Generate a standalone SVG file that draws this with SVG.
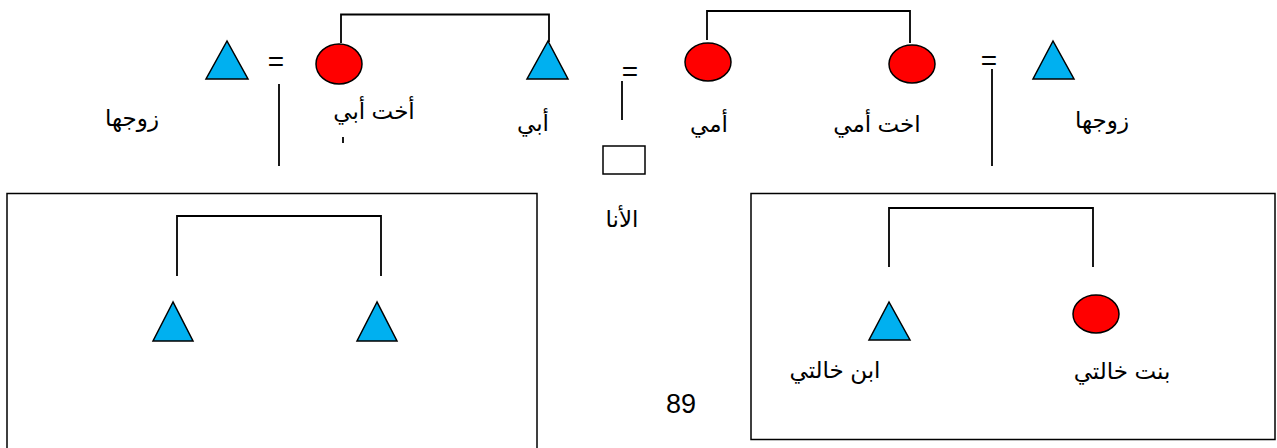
<svg xmlns="http://www.w3.org/2000/svg" width="1277" height="448" viewBox="0 0 1277 448">
<style>
.m{fill:#00B0F0;stroke:#000;stroke-width:1.5;stroke-linejoin:miter}
.f{fill:#FF0000;stroke:#000;stroke-width:1.5}
.ego{fill:#fff;stroke:#000;stroke-width:1.5}
.ln{fill:none;stroke:#000;stroke-width:1.8}
.box{fill:none;stroke:#000;stroke-width:1.5}
.t{font-family:"Liberation Sans","DejaVu Sans",sans-serif;font-size:23px;fill:#000;text-anchor:middle}
.eq{font-family:"Liberation Sans",Arial,sans-serif;font-size:28px;fill:#000;text-anchor:middle}
.num{font-family:"Liberation Sans",Arial,sans-serif;font-size:27px;fill:#000;text-anchor:middle}
</style>
<rect width="1277" height="448" fill="#fff"/>
<g id="boxes">
<rect class="box" x="7" y="193.5" width="530" height="270"/>
<rect class="box" x="751" y="193.5" width="524" height="246"/>
</g>
<g id="connectors">
<path class="ln" d="M341,43 V14.5 H549 V42"/>
<path class="ln" d="M707,40 V11 H910 V43"/>
<path class="ln" d="M177,276 V216 H381 V276"/>
<path class="ln" d="M889,267 V208 H1093 V267"/>
<line class="ln" x1="279" y1="84" x2="279" y2="166"/>
<line class="ln" x1="622" y1="81" x2="622" y2="120"/>
<line class="ln" x1="992" y1="69" x2="992" y2="166"/>
<line class="ln" x1="343" y1="137" x2="343" y2="143" stroke-width="1.5"/>
</g>
<g id="eq1"><text class="eq" x="276" y="71">=</text></g>
<g id="eq2"><text class="eq" x="630" y="81">=</text></g>
<g id="eq3"><text class="eq" x="989" y="70">=</text></g>
<g id="husband-left">
<polygon class="m" points="227,41 206,79 248,79"/>
<text class="t" x="132" y="126">زوجها</text>
</g>
<g id="fathers-sister">
<ellipse class="f" cx="339" cy="64" rx="23" ry="20"/>
<text class="t" x="374" y="119">أخت أبي</text>
</g>
<g id="father">
<polygon class="m" points="548,41 527,79 568,79"/>
<text class="t" x="533" y="131">أبي</text>
</g>
<g id="ego">
<rect class="ego" x="603" y="146" width="42" height="28"/>
<text class="t" x="622" y="227">الأنا</text>
</g>
<g id="mother">
<ellipse class="f" cx="708" cy="62" rx="23" ry="19"/>
<text class="t" x="709" y="132">أمي</text>
</g>
<g id="mothers-sister">
<ellipse class="f" cx="912" cy="64" rx="23" ry="19"/>
<text class="t" x="877" y="132">اخت أمي</text>
</g>
<g id="husband-right">
<polygon class="m" points="1053,41 1033,79 1074,79"/>
<text class="t" x="1102" y="128">زوجها</text>
</g>
<g id="child-left-1">
<polygon class="m" points="173,302 153,341 193,341"/>
</g>
<g id="child-left-2">
<polygon class="m" points="377,302 357,341 397,341"/>
</g>
<g id="cousin-son">
<polygon class="m" points="889,302 869,340 910,340"/>
<text class="t" x="835" y="378">ابن خالتي</text>
</g>
<g id="cousin-daughter">
<ellipse class="f" cx="1096" cy="314" rx="23" ry="19"/>
<text class="t" x="1122" y="379">بنت خالتي</text>
</g>
<g id="page-number">
<text class="num" x="681" y="413">89</text>
</g>
</svg>
